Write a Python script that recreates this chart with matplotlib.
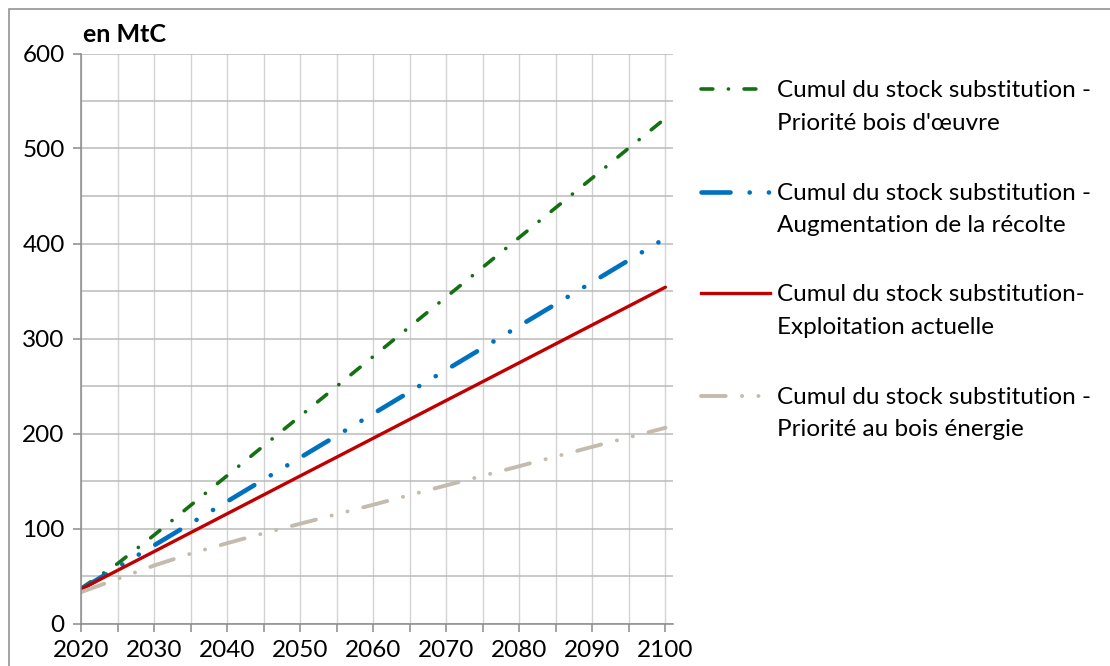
import matplotlib
matplotlib.use("Agg")
import matplotlib.pyplot as plt
from matplotlib.lines import Line2D
from matplotlib.patches import Rectangle

plt.rcParams['font.family'] = ['Lato', 'DejaVu Sans']
plt.rcParams['lines.scale_dashes'] = False

# data (MtC), read every 5 years
years = [2020, 2025, 2030, 2035, 2040, 2045, 2050, 2055, 2060,
         2065, 2070, 2075, 2080, 2085, 2090, 2095, 2100]
bois_oeuvre = [37, 63, 93, 124.3, 155.6, 187, 218.3, 249.7, 281,
               312.4, 343.7, 375, 406.4, 437.8, 469, 500.5, 531.8]
augmentation = [36, 59.1, 82.2, 105.3, 128.4, 151.5, 174.6, 197.7, 220.8,
                243.9, 267, 290.1, 313.2, 336.3, 359.4, 382.5, 405.6]
actuelle = [36, 55.9, 75.7, 95.6, 115.5, 135.4, 155.3, 175.1, 195,
            214.9, 234.8, 254.6, 274.5, 294.4, 314.3, 334.1, 354]
bois_energie = [33, 47, 61, 73.5, 84.5, 95, 105, 115, 125,
                135.2, 145.4, 155.5, 165.6, 175.8, 186, 196, 206]

labels = ["Cumul du stock substitution -", "Priorité bois d'œuvre",
          "Cumul du stock substitution -", "Augmentation de la récolte",
          "Cumul du stock substitution-", "Exploitation actuelle",
          "Cumul du stock substitution -", "Priorité au bois énergie"]

W, H = 1110, 666
def fx(x):
    return x / W
def fy(y):
    return 1 - y / H

series = [
    (bois_oeuvre, '#137013', 2.6, (8.5, 11.2, 0.1, 11.2)),
    (augmentation, '#0070c0', 3.3, (20.9, 13.75, 0.1, 13.75, 0.1, 13.75)),
    (actuelle, '#c00000', 2.4, None),
    (bois_energie, '#c4bbae', 2.8, (17.8, 11.7, 0.1, 11.7, 0.1, 11.7)),
]

fig = plt.figure(figsize=(W / 100, H / 100), dpi=100)
ax = fig.add_axes([fx(81), fy(623.5), fx(672.7) - fx(81), fy(53.5) - fy(623.5)])

for vals, col, lw, dash in series:
    if dash is None:
        ax.plot(years, vals, color=col, lw=lw, solid_capstyle='round')
    else:
        ax.plot(years, vals, color=col, lw=lw, dashes=dash, dash_capstyle='round')

ax.set_xlim(2020, 2101)
ax.set_ylim(0, 600)
ax.set_xticks(range(2020, 2101, 10))
ax.set_xticks(range(2025, 2100, 10), minor=True)
ax.set_yticks(range(0, 601, 100))
ax.set_yticks(range(50, 600, 100), minor=True)

ax.grid(axis='y', which='both', color='#bababa', lw=1.1)
ax.grid(axis='x', which='both', color='#d2d2d2', lw=1.0)
ax.set_axisbelow(True)

for s in ['top', 'right']:
    ax.spines[s].set_visible(False)
for s in ['left', 'bottom']:
    ax.spines[s].set_color('#8a8a8a')
    ax.spines[s].set_linewidth(1.1)

ax.tick_params(axis='both', which='major', direction='out', length=5.8, width=1.1,
               color='#8a8a8a', labelsize=17.5, labelcolor='black', pad=6)
ax.tick_params(axis='x', which='minor', direction='out', length=5.8, width=1.1,
               color='#8a8a8a')
ax.tick_params(axis='y', which='minor', length=0)

fig.text(fx(83), fy(42), 'en MtC', fontsize=18, fontweight='bold', va='baseline')

# legend drawn by hand
line_y = [89.3, 191.7, 293.3, 396]
for i, (vals, col, lw, dash) in enumerate(series):
    ln = Line2D([fx(701), fx(770)], [fy(line_y[i]), fy(line_y[i])],
                transform=fig.transFigure, color=col, lw=lw)
    if dash is not None:
        ln.set_dashes(dash)
        ln.set_dash_capstyle('round')
    fig.add_artist(ln)
    fig.text(fx(777), fy(line_y[i] + 8), labels[2 * i], fontsize=17.5, va='baseline')
    fig.text(fx(777), fy(line_y[i] + 40.5), labels[2 * i + 1], fontsize=17.5, va='baseline')

# outer frame
fig.add_artist(Rectangle((fx(9), -0.2), 1.2, fy(9) + 0.2, transform=fig.transFigure,
                         fill=False, edgecolor='#8a8a8a', lw=1.1))

fig.savefig('out.png', dpi=100)
